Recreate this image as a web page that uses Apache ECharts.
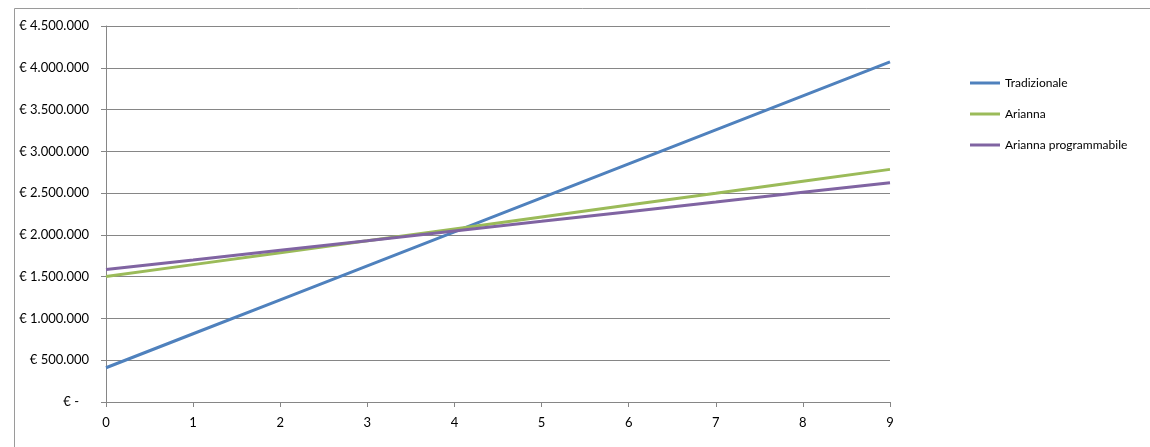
<!DOCTYPE html>
<html>
<head>
<meta charset="utf-8">
<script src="https://cdn.jsdelivr.net/npm/echarts@6/dist/echarts.min.js"></script>
<style>html,body{margin:0;padding:0;background:#fff;}#c{width:1150px;height:447px;}</style>
</head>
<body>
<div id="c"></div>
<script>
const categories = ['0','1','2','3','4','5','6','7','8','9'];
const tradizionale = [410000, 817000, 1223000, 1630000, 2037000, 2444000, 2850000, 3257000, 3664000, 4070000];
const arianna = [1501000, 1644000, 1786000, 1929000, 2071000, 2214000, 2357000, 2499000, 2642000, 2784000];
const ariannaProg = [1585000, 1700000, 1816000, 1931000, 2047000, 2162000, 2278000, 2393000, 2509000, 2624000];
const seriesNames = ['Tradizionale', 'Arianna', 'Arianna programmabile'];
const colors = ['#4F81BD', '#9BBB59', '#8064A2'];

function fmt(v) {
  if (v === 0) return '€ -   ';
  return '€ ' + String(v).replace(/\B(?=(\d{3})+(?!\d))/g, '.');
}

const chart = echarts.init(document.getElementById('c'), null, {renderer: 'canvas'});
const fontFamily = 'Lato, "Open Sans", sans-serif';
chart.setOption({
  animation: false,
  backgroundColor: '#fff',
  textStyle: {fontFamily: fontFamily},
  graphic: [{
    type: 'rect', left: 12, top: 6,
    shape: {width: 1160, height: 460},
    style: {fill: 'none', stroke: '#9a9a9a', lineWidth: 1}
  }],
  grid: {left: 106, right: 260, top: 26, bottom: 45, containLabel: false},
  legend: {
    orient: 'vertical', left: 970, top: 77, itemGap: 19, padding: 0,
    itemWidth: 30, itemHeight: 3,
    icon: 'rect',
    textStyle: {fontSize: 12, color: '#000', fontFamily: fontFamily},
    data: seriesNames
  },
  xAxis: {
    type: 'category', data: categories, boundaryGap: false,
    axisLine: {lineStyle: {color: '#868686', width: 1}},
    axisTick: {show: true, length: 5, lineStyle: {color: '#868686'}},
    axisLabel: {color: '#000', fontSize: 13, margin: 14, fontFamily: fontFamily},
    splitLine: {show: false}
  },
  yAxis: {
    type: 'value', min: 0, max: 4500000, interval: 500000,
    axisLine: {show: true, lineStyle: {color: '#868686', width: 1}},
    axisTick: {show: true, length: 5, lineStyle: {color: '#868686'}},
    axisLabel: {color: '#000', fontSize: 13, margin: 17, formatter: fmt, fontFamily: fontFamily},
    splitLine: {show: true, lineStyle: {color: '#868686', width: 1}}
  },
  series: [
    {name: seriesNames[0], type: 'line', data: tradizionale, showSymbol: false, symbol: 'none', lineStyle: {width: 3, color: colors[0]}, itemStyle: {color: colors[0]}},
    {name: seriesNames[1], type: 'line', data: arianna, showSymbol: false, symbol: 'none', lineStyle: {width: 3, color: colors[1]}, itemStyle: {color: colors[1]}},
    {name: seriesNames[2], type: 'line', data: ariannaProg, showSymbol: false, symbol: 'none', lineStyle: {width: 3, color: colors[2]}, itemStyle: {color: colors[2]}}
  ]
});
</script>
</body>
</html>
